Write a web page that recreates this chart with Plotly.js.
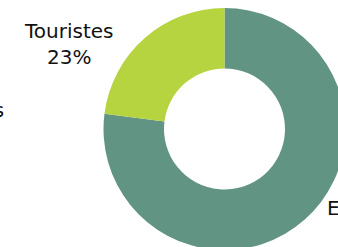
<!DOCTYPE html>
<html><head><meta charset="utf-8">
<script src="https://cdn.plot.ly/plotly-3.0.1.min.js"></script>
<style>html,body{margin:0;padding:0;overflow:hidden;background:#fff;width:338px;height:247px}</style>
</head><body><div id="chart"></div>
<script>
const categories = ["Excursionnistes", "Touristes"];
const values = [77, 23];
const colors = ["#629484", "#b5d440"];
const leftCutLabel = "Résidents";

const W = 400, H = 300;
const px = x => x / W, py = y => 1 - y / H;

Plotly.newPlot("chart", [{
  type: "pie",
  labels: categories,
  values: values,
  hole: 0.5,
  sort: false,
  direction: "clockwise",
  rotation: 0,
  marker: {colors: colors, line: {width: 0}},
  textinfo: "none",
  hoverinfo: "none",
  showlegend: false,
  domain: {x: [px(103.5), px(345.5)], y: [py(250), py(8)]}
}], {
  width: W, height: H,
  margin: {l: 0, r: 0, t: 0, b: 0},
  paper_bgcolor: "#fff",
  font: {family: "DejaVu Sans", size: 20, color: "#111"},
  annotations: [
    {xref: "paper", yref: "paper", x: px(69), y: py(17), xanchor: "center", yanchor: "top",
     text: categories[1] + "<br>" + values[1] + "%", showarrow: false, align: "center"},
    {xref: "paper", yref: "paper", x: px(6), y: py(110), xanchor: "right", yanchor: "middle",
     text: leftCutLabel, showarrow: false},
    {xref: "paper", yref: "paper", x: px(325), y: py(208), xanchor: "left", yanchor: "middle",
     text: categories[0], showarrow: false}
  ]
}, {staticPlot: true});
</script></body></html>
